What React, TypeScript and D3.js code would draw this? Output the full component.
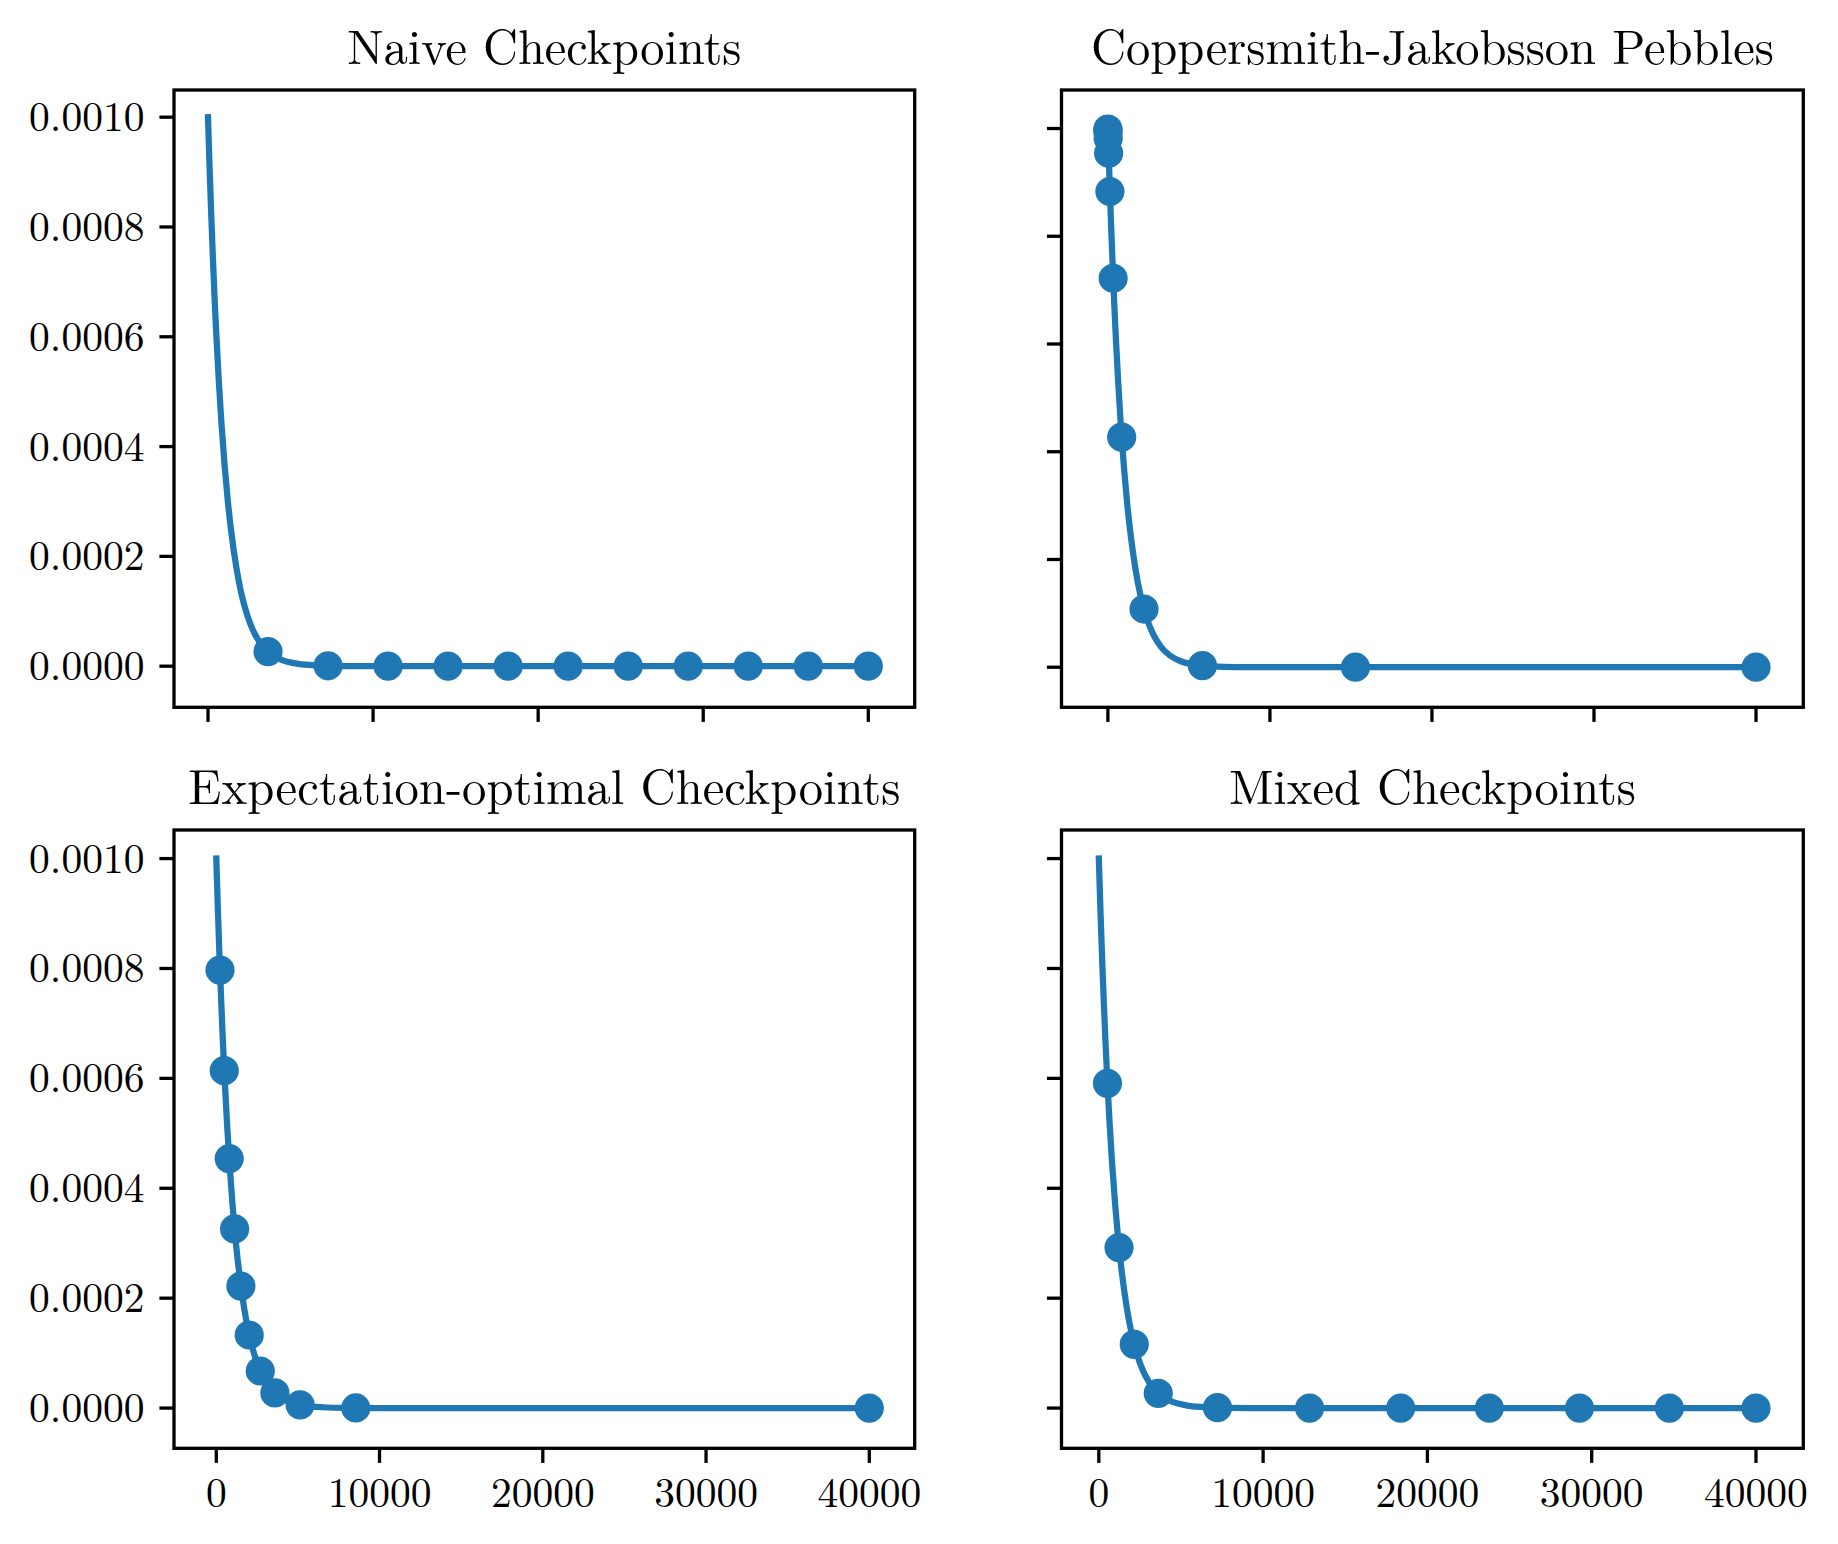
import React from "react";
import * as d3 from "d3";

// ---------- data ----------
const curveX = [0, 100, 200, 300, 400, 500, 650, 800, 1000, 1200, 1400, 1700, 2000, 2400, 2800, 3300, 3800, 4500, 5500, 6500, 8000, 10000, 15000, 25000, 40000];
const curveY = [0.001, 0.000905, 0.000819, 0.000741, 0.00067, 0.000606, 0.000522, 0.000449, 0.000368, 0.000301, 0.000247, 0.000183, 0.000135, 0.0000907, 0.0000608, 0.0000369, 0.0000224, 0.0000111, 0.0000041, 0.0000015, 0.0000003, 0.00000005, 0, 0, 0];

const naiveX = [3636, 7273, 10909, 14545, 18182, 21818, 25455, 29091, 32727, 36364, 40000];
const naiveY = [0.0000265, 0.0000007, 0, 0, 0, 0, 0, 0, 0, 0, 0];

const cjX = [1, 3, 7, 18, 47, 124, 325, 851, 2229, 5836, 15279, 40000];
const cjY = [0.000999, 0.000997, 0.000993, 0.000982, 0.000954, 0.000883, 0.000722, 0.000427, 0.000108, 0.0000029, 0, 0];

const eoX = [227, 488, 790, 1121, 1507, 2017, 2695, 3590, 5133, 8545, 40000];
const eoY = [0.000797, 0.000614, 0.000454, 0.000326, 0.000222, 0.000133, 0.0000675, 0.0000276, 0.0000059, 0.0000002, 0];

const mixedX = [526, 1230, 2157, 3619, 7222, 12830, 18375, 23770, 29260, 34730, 40000];
const mixedY = [0.000591, 0.000292, 0.000116, 0.0000268, 0.0000007, 0, 0, 0, 0, 0, 0];

const titles = ["Naive Checkpoints", "Coppersmith-Jakobsson Pebbles", "Expectation-optimal Checkpoints", "Mixed Checkpoints"];
const xTicks = [0, 10000, 20000, 30000, 40000];
const xTickLabels = ["0", "10000", "20000", "30000", "40000"];
const yTicks = [0, 0.0002, 0.0004, 0.0006, 0.0008, 0.001];
const yTickLabels = ["0.0000", "0.0002", "0.0004", "0.0006", "0.0008", "0.0010"];

// ---------- layout ----------
const W = 1838;
const H = 1544;
const COLOR = "#1f77b4";
const FONT = "'Latin Modern Roman', 'CMU Serif', 'Liberation Serif', 'Times New Roman', serif";

type Panel = {
  title: string;
  titleWidth: number;
  box: [number, number, number, number]; // left, top, right, bottom
  xDomain: [number, number];
  yDomain: [number, number];
  mx: number[];
  my: number[];
  showX: boolean;
  showY: boolean;
};

const panels: Panel[] = [
  { title: titles[0], titleWidth: 394, box: [174, 90, 914.7, 707.3], xDomain: [-2060, 42811], yDomain: [-0.0000749, 0.0010495], mx: naiveX, my: naiveY, showX: false, showY: true },
  { title: titles[1], titleWidth: 683, box: [1061.5, 90, 1803.3, 707.3], xDomain: [-2863, 42918], yDomain: [-0.0000744, 0.0010715], mx: cjX, my: cjY, showX: false, showY: false },
  { title: titles[2], titleWidth: 712, box: [174, 830, 914.7, 1448.3], xDomain: [-2591, 42781], yDomain: [-0.0000732, 0.001052], mx: eoX, my: eoY, showX: true, showY: true },
  { title: titles[3], titleWidth: 407, box: [1061.5, 830, 1803.3, 1448.3], xDomain: [-2272, 42881], yDomain: [-0.0000732, 0.001052], mx: mixedX, my: mixedY, showX: true, showY: false },
];

const TICK = 14.6;
const SPINE = 3.3;
const LABEL_FS = 41.5;
const TITLE_FS = 49;

function PanelView({ p }: { p: Panel }) {
  const [l, t, r, b] = p.box;
  const x = d3.scaleLinear().domain(p.xDomain).range([l, r]);
  const y = d3.scaleLinear().domain(p.yDomain).range([b, t]);
  const pts: [number, number][] = curveX.map((v, i) => [v, curveY[i]]);
  const line = d3
    .line<[number, number]>()
    .x((d) => x(d[0]))
    .y((d) => y(d[1]))
    .curve(d3.curveMonotoneX);
  const cx = (l + r) / 2;
  return (
    <g>
      <text
        x={cx}
        y={t - 26}
        textAnchor="middle"
        fontFamily={FONT}
        fontSize={TITLE_FS}
        textLength={p.titleWidth}
        lengthAdjust="spacingAndGlyphs"
        fill="#000"
      >
        {p.title}
      </text>
      <path d={line(pts) || ""} fill="none" stroke={COLOR} strokeWidth={6.25} strokeLinecap="square" strokeLinejoin="round" />
      {p.mx.map((v, i) => (
        <circle key={i} cx={x(v)} cy={y(p.my[i])} r={12.5} fill={COLOR} stroke={COLOR} strokeWidth={4.2} />
      ))}
      <rect x={l} y={t} width={r - l} height={b - t} fill="none" stroke="#000" strokeWidth={SPINE} />
      {xTicks.map((v, i) => (
        <g key={"x" + i}>
          <line x1={x(v)} x2={x(v)} y1={b} y2={b + TICK} stroke="#000" strokeWidth={SPINE} />
          {p.showX && (
            <text x={x(v)} y={b + 59} textAnchor="middle" fontFamily={FONT} fontSize={LABEL_FS} fill="#000">
              {xTickLabels[i]}
            </text>
          )}
        </g>
      ))}
      {yTicks.map((v, i) => (
        <g key={"y" + i}>
          <line x1={l - TICK} x2={l} y1={y(v)} y2={y(v)} stroke="#000" strokeWidth={SPINE} />
          {p.showY && (
            <text x={l - TICK - 15} y={y(v) + 14} textAnchor="end" fontFamily={FONT} fontSize={LABEL_FS} fill="#000">
              {yTickLabels[i]}
            </text>
          )}
        </g>
      ))}
    </g>
  );
}

export default function App() {
  return (
    <svg
      width={W}
      height={H}
      viewBox={`0 0 ${W} ${H}`}
      style={{ position: "absolute", left: 0, top: 0, background: "#fff" }}
    >
      <rect x={0} y={0} width={W} height={H} fill="#fff" />
      {panels.map((p, i) => (
        <PanelView key={i} p={p} />
      ))}
    </svg>
  );
}
